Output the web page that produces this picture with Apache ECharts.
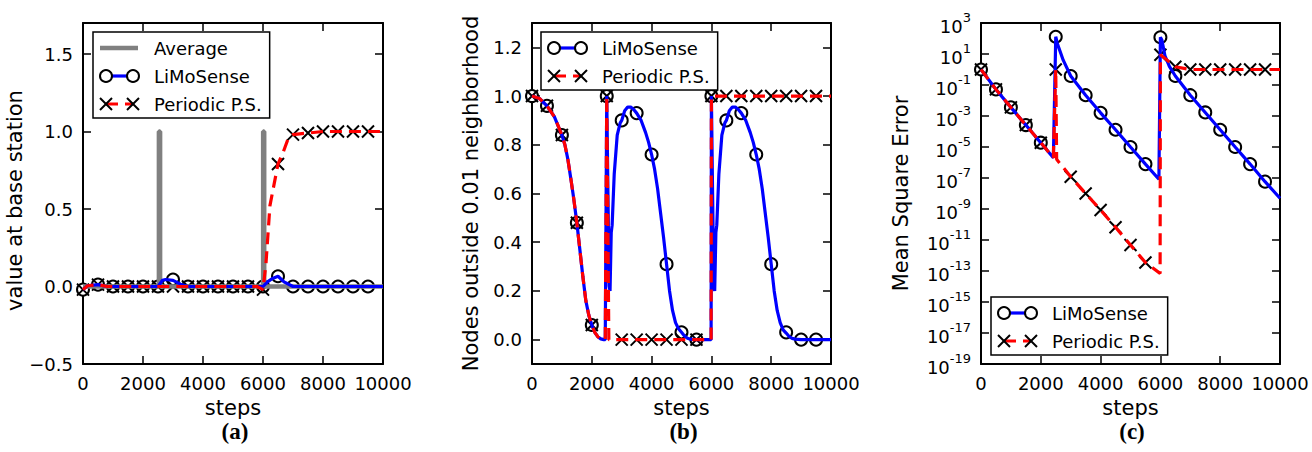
<!DOCTYPE html>
<html><head><meta charset="utf-8">
<script src="https://cdn.jsdelivr.net/npm/echarts@6/dist/echarts.min.js"></script>
<style>html,body{margin:0;padding:0;background:#fff}#c{width:1312px;height:452px}</style>
</head><body><div id="c"></div>
<script>
// ---------- shared axis ticks ----------
const stepTicks = [0, 2000, 4000, 6000, 8000, 10000];
const aYTicks = [-0.5, 0.0, 0.5, 1.0, 1.5];   const aYMax = 1.7;
const bYTicks = [0.0, 0.2, 0.4, 0.6, 0.8, 1.0, 1.2]; const bYMin = -0.1, bYMax = 1.3;
const cExpTicks = [-19, -17, -15, -13, -11, -9, -7, -5, -3, -1, 1, 3];

// ---------- panel (a): value at base station ----------
const aAvgCurve = [[0,0],[2530,0],[2530,1],[2570,1],[2570,0],[6005,0],[6005,1],[6040,1],[6040,0],[10000,0]];
const aLimoCurve = [[0,-0.02],[150,0.005],[500,0.012],[800,0],[2500,0],[2650,0.04],[2750,0.045],[3000,0.04],[3250,0.015],[3500,0],[6000,0],[6150,0.03],[6300,0.05],[6500,0.066],[6700,0.03],[7000,0],[10000,0]];
const aLimoMarks = [[0,-0.02],[500,0.012],[1000,0],[1500,0],[2000,0],[2500,0],[3000,0.045],[3500,0],[4000,0],[4500,0],[5000,0],[5500,0],[6000,0],[6500,0.066],[7000,0],[7500,0],[8000,0],[8500,0],[9000,0],[9500,0]];
const aPerCurve = [[0,-0.02],[150,0.005],[500,0.012],[800,0],[5800,0],[6000,-0.02],[6100,0.15],[6230,0.52],[6500,0.79],[6680,0.87],[6850,0.96],[7000,0.98],[7500,0.99],[8000,1.0],[10000,1.0]];
const aPerMarks = [[0,-0.02],[500,0.012],[1000,0],[1500,0],[2000,0],[2500,0],[3000,0],[3500,0],[4000,0],[4500,0],[5000,0],[5500,0],[6000,-0.02],[6500,0.79],[7000,0.98],[7500,0.99],[8000,1.0],[8500,1.0],[9000,1.0],[9500,1.0]];

// ---------- panel (b): nodes outside 0.01 neighborhood ----------
const bLimoCurve = [[0,1.0],[250,0.99],[500,0.96],[750,0.915],[1000,0.84],[1100,0.8],[1200,0.74],[1300,0.66],[1400,0.575],[1500,0.48],[1600,0.37],[1700,0.26],[1800,0.16],[1900,0.1],[2000,0.06],[2100,0.03],[2200,0.012],[2300,0.003],[2400,0],[2450,0],[2500,1.0],[2540,0.6],[2580,0.22],[2610,0.2],[2650,0.44],[2680,0.47],[2750,0.68],[2850,0.84],[2950,0.89],[3000,0.9],[3100,0.94],[3200,0.955],[3300,0.955],[3400,0.945],[3500,0.93],[3650,0.9],[3800,0.85],[3900,0.81],[4000,0.76],[4100,0.7],[4200,0.62],[4300,0.52],[4400,0.42],[4500,0.31],[4600,0.2],[4700,0.12],[4800,0.07],[4900,0.045],[5000,0.03],[5100,0.015],[5200,0.006],[5300,0.002],[5500,0],[5990,0],[6000,1.0],[6040,0.6],[6080,0.22],[6110,0.2],[6150,0.44],[6180,0.47],[6250,0.68],[6350,0.84],[6450,0.89],[6500,0.9],[6600,0.94],[6700,0.955],[6800,0.955],[6900,0.945],[7000,0.93],[7150,0.9],[7300,0.85],[7400,0.81],[7500,0.76],[7600,0.7],[7700,0.62],[7800,0.52],[7900,0.42],[8000,0.31],[8100,0.2],[8200,0.12],[8300,0.07],[8400,0.04],[8500,0.027],[8600,0.013],[8700,0.005],[8800,0.002],[9000,0],[10000,0]];
const bLimoMarks = [[0,1.0],[500,0.96],[1000,0.84],[1500,0.48],[2000,0.06],[2500,1.0],[3000,0.9],[3500,0.93],[4000,0.76],[4500,0.31],[5000,0.03],[5500,0],[6000,1.0],[6500,0.9],[7000,0.93],[7500,0.76],[8000,0.31],[8500,0.03],[9000,0],[9500,0]];
const bPerCurve = [[0,1.0],[250,0.99],[500,0.96],[750,0.915],[1000,0.84],[1100,0.8],[1200,0.74],[1300,0.66],[1400,0.575],[1500,0.48],[1600,0.37],[1700,0.26],[1800,0.16],[1900,0.1],[2000,0.06],[2100,0.03],[2200,0.012],[2300,0.003],[2400,0],[2450,0],[2500,1.0],[2570,0],[5990,0],[6000,1.0],[10000,1.0]];
const bPerMarks = [[0,1.0],[500,0.96],[1000,0.84],[1500,0.48],[2000,0.06],[2500,1.0],[3000,0],[3500,0],[4000,0],[4500,0],[5000,0],[5500,0],[6000,1.0],[6500,1.0],[7000,1.0],[7500,1.0],[8000,1.0],[8500,1.0],[9000,1.0],[9500,1.0]];

// ---------- panel (c): mean square error (log scale) ----------
const cLimoCurve = [[0,1.0],[500,5.2e-2],[1000,3.6e-3],[1500,2.6e-4],[2000,1.9e-5],[2420,2.0e-6],[2500,1.3e2],[2550,5.0e1],[2750,4.0e0],[3000,3.8e-1],[3500,2.2e-2],[4000,1.6e-3],[4500,1.3e-4],[5000,1.0e-5],[5500,7.9e-7],[5950,8.3e-8],[6000,1.2e2],[6050,8.0e1],[6150,8.0e0],[6300,1.6e0],[6500,3.8e-1],[7000,2.2e-2],[7500,1.7e-3],[8000,1.3e-4],[8500,1.0e-5],[9000,7.9e-7],[9500,5.8e-8],[10000,4.9e-9]];
const cLimoMarks = [[0,1.0],[500,5.2e-2],[1000,3.6e-3],[1500,2.6e-4],[2000,1.9e-5],[2500,1.3e2],[3000,3.8e-1],[3500,2.2e-2],[4000,1.6e-3],[4500,1.3e-4],[5000,1.0e-5],[5500,7.9e-7],[6000,1.2e2],[6500,3.8e-1],[7000,2.2e-2],[7500,1.7e-3],[8000,1.3e-4],[8500,1.0e-5],[9000,7.9e-7],[9500,5.8e-8]];
const cPerCurve = [[0,1.0],[500,5.2e-2],[1000,3.6e-3],[1500,2.6e-4],[2000,1.9e-5],[2420,2.0e-6],[2500,1.0],[2530,1.6e-6],[3000,1.2e-7],[3500,1.0e-8],[4000,8.7e-10],[4500,6.6e-11],[5000,4.8e-12],[5500,3.5e-13],[5990,7.0e-14],[6000,8.9],[6500,1.5],[7000,1.0],[10000,1.0]];
const cPerMarks = [[0,1.0],[500,5.2e-2],[1000,3.6e-3],[1500,2.6e-4],[2000,1.9e-5],[2500,1.0],[3000,1.2e-7],[3500,1.0e-8],[4000,8.7e-10],[4500,6.6e-11],[5000,4.8e-12],[5500,3.5e-13],[6000,8.9],[6500,1.5],[7000,1.0],[7500,1.0],[8000,1.0],[8500,1.0],[9000,1.0],[9500,1.0]];

// ---------- styles ----------
const FONT = 'DejaVu Sans';
const BLUE = '#0000ff', RED = '#ff0000', GRAY = '#808080', BLACK = '#000000';
const XPATH = 'path://M0,0L10,10M0,10L10,0';
const MS = 12; // marker size
const log10pts = arr => arr.map(p => [p[0], Math.log10(p[1])]);

const grids = [
  {left: 83, top: 23, width: 300, height: 341},
  {left: 532, top: 23, width: 299, height: 341},
  {left: 981, top: 23, width: 299, height: 341}
];

function xAxesFor(gi) {
  const common = {
    gridIndex: gi, type: 'value',
    min: stepTicks[0], max: stepTicks[stepTicks.length - 1], interval: stepTicks[1] - stepTicks[0],
    splitLine: {show: false},
    axisLine: {onZero: false, lineStyle: {color: BLACK, width: 2}},
    axisTick: {inside: true, length: 8, lineStyle: {color: BLACK, width: 1.5}}
  };
  return [
    Object.assign({}, common, {position: 'bottom', name: 'steps', nameLocation: 'middle', nameGap: 33,
      nameTextStyle: {fontFamily: FONT, fontSize: 21, color: BLACK},
      axisLabel: {fontFamily: FONT, fontSize: 18, color: BLACK, margin: 10, formatter: v => String(Math.round(v))}}),
    Object.assign({}, common, {position: 'top', axisLabel: {show: false}})
  ];
}
function yAxesFor(gi, scale, name, nameGap, labelCfg, namePad) {
  const common = Object.assign({
    gridIndex: gi, type: 'value',
    splitLine: {show: false},
    axisLine: {onZero: false, lineStyle: {color: BLACK, width: 2}},
    axisTick: {inside: true, length: 8, lineStyle: {color: BLACK, width: 1.5}}
  }, scale);
  return [
    Object.assign({}, common, {position: 'left', name: name, nameLocation: 'middle', nameGap: nameGap,
      nameTextStyle: {fontFamily: FONT, fontSize: 21, color: BLACK, padding: namePad || 0},
      axisLabel: Object.assign({fontFamily: FONT, fontSize: 18, color: BLACK, margin: 10}, labelCfg)}),
    Object.assign({}, common, {position: 'right', axisLabel: {show: false}})
  ];
}

const aFmt = v => {
  const k = v / (aYTicks[1] - aYTicks[0]);
  if (Math.abs(k - Math.round(k)) > 1e-6 || v > aYTicks[aYTicks.length - 1] + 1e-9) return '';
  return (v < 0 ? '\u2212' : '') + Math.abs(v).toFixed(1);
};
const bFmt = v => {
  const k = v / (bYTicks[1] - bYTicks[0]);
  if (Math.abs(k - Math.round(k)) > 1e-6 || v < bYTicks[0] - 1e-9 || v > bYTicks[bYTicks.length - 1] + 1e-9) return '';
  return v.toFixed(1);
};
const cFmt = v => '{b|10}{e|' + Math.round(v) + '}';

const xAxis = [].concat(xAxesFor(0), xAxesFor(1), xAxesFor(2));
const yAxis = [].concat(
  yAxesFor(0, {min: aYTicks[0], max: aYMax, interval: aYTicks[1] - aYTicks[0]}, 'value at base station', 51, {formatter: aFmt}, [0, 14, 0, 0]),
  yAxesFor(1, {min: bYMin, max: bYMax, minInterval: bYTicks[1] - bYTicks[0], maxInterval: bYTicks[1] - bYTicks[0], splitNumber: 7}, 'Nodes outside 0.01 neighborhood', 51, {formatter: bFmt}),
  yAxesFor(2, {min: cExpTicks[0], max: cExpTicks[cExpTicks.length - 1], interval: cExpTicks[1] - cExpTicks[0]}, 'Mean Square Error', 70,
    {formatter: cFmt, rich: {
      b: {fontFamily: FONT, fontSize: 18, color: BLACK, lineHeight: 24, verticalAlign: 'bottom'},
      e: {fontFamily: FONT, fontSize: 13, color: BLACK, lineHeight: 24, verticalAlign: 'top'}
    }})
);

function lineSeries(name, gi, data, color, width, dashed) {
  return {type: 'line', name: name, xAxisIndex: 2 * gi, yAxisIndex: 2 * gi, data: data,
    symbol: 'none', showSymbol: false, silent: true, clip: true, animation: false,
    lineStyle: {color: color, width: width, type: dashed ? [12, 7] : 'solid'},
    itemStyle: {color: color}};
}
function circleMarks(name, gi, data) {
  return {type: 'scatter', name: name, xAxisIndex: 2 * gi, yAxisIndex: 2 * gi, data: data,
    symbol: 'circle', symbolSize: MS, silent: true, animation: false,
    itemStyle: {color: '#ffffff', borderColor: BLACK, borderWidth: 2, opacity: 1}};
}
function crossMarks(name, gi, data) {
  return {type: 'scatter', name: name, xAxisIndex: 2 * gi, yAxisIndex: 2 * gi, data: data,
    symbol: XPATH, symbolSize: MS, silent: true, animation: false,
    itemStyle: {color: 'rgba(0,0,0,0)', borderColor: BLACK, borderWidth: 2, opacity: 1}};
}

const series = [
  lineSeries('Average', 0, aAvgCurve, GRAY, 4.5, false),
  lineSeries('LiMoSense', 0, aLimoCurve, BLUE, 3.2, false),
  circleMarks('LiMoSense', 0, aLimoMarks),
  lineSeries('Periodic P.S.', 0, aPerCurve, RED, 3.2, true),
  crossMarks('Periodic P.S.', 0, aPerMarks),

  lineSeries('LiMoSense', 1, bLimoCurve, BLUE, 3.2, false),
  circleMarks('LiMoSense', 1, bLimoMarks),
  lineSeries('Periodic P.S.', 1, bPerCurve, RED, 3.2, true),
  crossMarks('Periodic P.S.', 1, bPerMarks),

  lineSeries('LiMoSense', 2, log10pts(cLimoCurve), BLUE, 3.2, false),
  circleMarks('LiMoSense', 2, log10pts(cLimoMarks)),
  lineSeries('Periodic P.S.', 2, log10pts(cPerCurve), RED, 3.2, true),
  crossMarks('Periodic P.S.', 2, log10pts(cPerMarks))
];

// ---------- legends (text + box by ECharts, icons drawn as graphics) ----------
const LG = {itemWidth: 49, itemHeight: 20, itemGap: 8, pad: [6, 8, 4, 7]};
const legendSpecs = [
  {left: 93, top: 32, items: ['Average', 'LiMoSense', 'Periodic P.S.']},
  {left: 541, top: 32, items: ['LiMoSense', 'Periodic P.S.']},
  {left: 991, top: 297, items: ['LiMoSense', 'Periodic P.S.']}
];
const legend = legendSpecs.map(s => ({
  show: true, orient: 'vertical', left: s.left, top: s.top, data: s.items,
  itemWidth: LG.itemWidth, itemHeight: LG.itemHeight, itemGap: LG.itemGap, padding: LG.pad,
  backgroundColor: '#ffffff', borderColor: BLACK, borderWidth: 1.5, borderRadius: 0,
  selectedMode: false, icon: 'rect', z: 10,
  itemStyle: {color: 'rgba(0,0,0,0)', borderWidth: 0, opacity: 0},
  lineStyle: {opacity: 0},
  textStyle: {fontFamily: FONT, fontSize: 18, color: BLACK, lineHeight: 20}
}));

const gEls = [];
const r = MS / 2;
legendSpecs.forEach(s => {
  const x0 = s.left + LG.pad[3];
  s.items.forEach((name, k) => {
    const y = s.top + LG.pad[0] + LG.itemHeight / 2 + k * (LG.itemHeight + LG.itemGap);
    const xa = x0 + 6, xb = x0 + 33;
    if (name === 'Average') {
      gEls.push({type: 'line', z: 100, shape: {x1: x0, y1: y, x2: x0 + 38, y2: y}, style: {stroke: GRAY, lineWidth: 4.5}});
    } else if (name === 'LiMoSense') {
      gEls.push({type: 'line', z: 100, shape: {x1: xa, y1: y, x2: xb, y2: y}, style: {stroke: BLUE, lineWidth: 3.2}});
      [xa, xb].forEach(cx => gEls.push({type: 'circle', z: 101, shape: {cx: cx, cy: y, r: r}, style: {fill: '#ffffff', stroke: BLACK, lineWidth: 2}}));
    } else {
      gEls.push({type: 'line', z: 100, shape: {x1: xa, y1: y, x2: xb, y2: y}, style: {stroke: RED, lineWidth: 3.2, lineDash: [12, 7]}});
      [xa, xb].forEach(cx => {
        gEls.push({type: 'line', z: 101, shape: {x1: cx - r, y1: y - r, x2: cx + r, y2: y + r}, style: {stroke: BLACK, lineWidth: 2}});
        gEls.push({type: 'line', z: 101, shape: {x1: cx - r, y1: y + r, x2: cx + r, y2: y - r}, style: {stroke: BLACK, lineWidth: 2}});
      });
    }
  });
});
// panel captions
[['(a)', 235], ['(b)', 683.5], ['(c)', 1132]].forEach(c => {
  gEls.push({type: 'text', z: 100, x: c[1], y: 431,
    style: {text: c[0], font: 'bold 23px "Liberation Serif"', fill: BLACK, textAlign: 'center', textVerticalAlign: 'middle'}});
});

const chart = echarts.init(document.getElementById('c'), null, {renderer: 'svg'});
chart.setOption({
  animation: false,
  backgroundColor: '#ffffff',
  grid: grids.map(g => Object.assign({containLabel: false, outerBoundsMode: 'none', show: false}, g)),
  xAxis: xAxis,
  yAxis: yAxis,
  legend: legend,
  series: series,
  graphic: {elements: gEls}
});
</script>
</body></html>
